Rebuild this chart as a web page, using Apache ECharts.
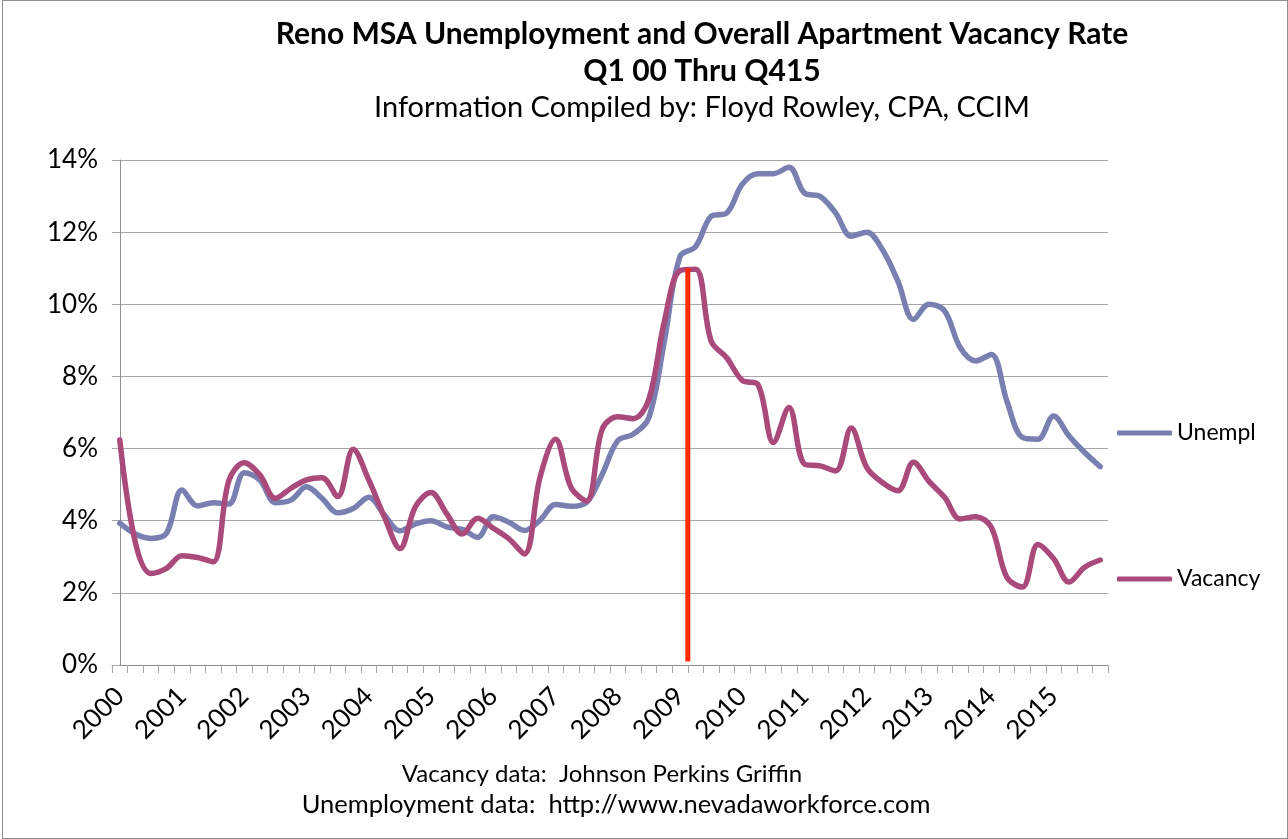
<!DOCTYPE html>
<html>
<head>
<meta charset="utf-8">
<script src="https://cdn.jsdelivr.net/npm/echarts@6/dist/echarts.min.js"></script>
<style>
  html, body { margin: 0; padding: 0; background: #fff; }
  #chart { position: absolute; left: 0; top: 0; width: 1288px; height: 839px; }
  #frame { position: absolute; left: 2px; top: 0; width: 1284px; height: 837px; border: 1px solid #8e8e8e; pointer-events: none; }
</style>
</head>
<body>
<div id="chart"></div>
<div id="frame"></div>
<script>
// quarterly data Q1 2000 .. Q4 2015
let years = [2000, 2001, 2002, 2003, 2004, 2005, 2006, 2007, 2008, 2009, 2010, 2011, 2012, 2013, 2014, 2015];
let quarters = ['Q1', 'Q2', 'Q3', 'Q4'];

let unempl = [
  3.93, 3.63, 3.51, 3.65,   4.85, 4.41, 4.50, 4.46,   5.33, 5.13, 4.50, 4.57,   4.94, 4.62, 4.22, 4.34,
  4.65, 4.16, 3.72, 3.91,   4.00, 3.83, 3.76, 3.54,   4.11, 3.96, 3.73, 4.01,   4.45, 4.40, 4.51, 5.29,
  6.22, 6.40, 6.86, 9.00,   11.33, 11.60, 12.44, 12.53,   13.33, 13.62, 13.62, 13.80,   13.08, 12.99, 12.53, 11.89,
  12.00, 11.52, 10.64, 9.58,   10.00, 9.82, 8.80, 8.43,   8.61, 7.32, 6.31, 6.26,   6.90, 6.35, 5.89, 5.50
];

let vacancy = [
  6.24, 3.40, 2.54, 2.68,   3.03, 2.98, 2.86, 5.10,   5.61, 5.27, 4.62, 4.90,   5.13, 5.19, 4.67, 5.98,
  5.13, 4.11, 3.23, 4.39,   4.78, 4.20, 3.63, 4.07,   3.79, 3.50, 3.08, 5.20,   6.26, 4.92, 4.55, 6.54,
  6.88, 6.83, 7.37, 9.54,   10.93, 10.97, 8.98, 8.52,   7.89, 7.78, 6.17, 7.14,   5.57, 5.52, 5.38, 6.57,
  5.47, 5.06, 4.83, 5.62,   5.09, 4.65, 4.05, 4.11,   3.82, 2.43, 2.16, 3.34,   2.95, 2.30, 2.71, 2.91
];

// red marker line between Q1 and Q2 2009 (category index 36.5)
let peakMarkX = 36.5;
let peakMarkRange = [0.1, 11.0];

let categories = [];
years.forEach(y => quarters.forEach(q => categories.push(y + ' ' + q)));

let font = 'Lato, "Liberation Sans", sans-serif';

let myChart = echarts.init(document.getElementById('chart'));

let option = {
  backgroundColor: '#fff',
  animation: false,
  textStyle: { fontFamily: font, color: '#000' },
  title: [
    { text: 'Reno MSA Unemployment and Overall Apartment Vacancy Rate', left: 697, top: 14, textAlign: 'center',
      textStyle: { fontFamily: font, fontSize: 30, fontWeight: 'bold', color: '#000' } },
    { text: 'Q1 00 Thru Q415', left: 697, top: 51, textAlign: 'center',
      textStyle: { fontFamily: font, fontSize: 30, fontWeight: 'bold', color: '#000' } },
    { text: 'Information Compiled by: Floyd Rowley, CPA, CCIM', left: 697, top: 88, textAlign: 'center',
      textStyle: { fontFamily: font, fontSize: 29, fontWeight: 'normal', color: '#000' } },
    { text: 'Vacancy data:  Johnson Perkins Griffin', left: 597, top: 757, textAlign: 'center',
      textStyle: { fontFamily: font, fontSize: 24, fontWeight: 'normal', color: '#000' } },
    { text: 'Unemployment data:  http://www.nevadaworkforce.com', left: 611, top: 787, textAlign: 'center',
      textStyle: { fontFamily: font, fontSize: 25.5, fontWeight: 'normal', color: '#000' } }
  ],
  legend: {
    orient: 'vertical',
    left: 1112,
    top: 416,
    icon: 'roundRect',
    itemWidth: 55,
    itemHeight: 5,
    itemGap: 122,
    data: ['Unempl', 'Vacancy'],
    textStyle: { fontFamily: font, fontSize: 23, color: '#000', lineHeight: 24 }
  },
  grid: { left: 112, right: 180, top: 160, bottom: 174, containLabel: false },
  xAxis: [
    {
      type: 'category',
      data: categories,
      boundaryGap: true,
      axisLine: { lineStyle: { color: '#8e8e8e', width: 1 } },
      axisTick: { show: true, interval: 0, length: 8, lineStyle: { color: '#a6a6a6' } },
      axisLabel: {
        interval: 3,
        rotate: 45,
        margin: 27,
        fontSize: 26,
        color: '#000',
        fontFamily: font,
        formatter: v => v.split(' ')[0]
      },
      splitLine: { show: false }
    },
    {
      // hidden helper axis in category index units, used for the red marker
      type: 'value',
      min: -0.5,
      max: categories.length - 0.5,
      show: false
    }
  ],
  yAxis: {
    type: 'value',
    min: 0,
    max: 14,
    interval: 2,
    axisLine: { show: true, lineStyle: { color: '#8e8e8e', width: 1 } },
    axisTick: { show: true, length: 8, lineStyle: { color: '#a6a6a6' } },
    axisLabel: { formatter: '{value}%', fontSize: 26, color: '#000', fontFamily: font, margin: 14 },
    splitLine: { lineStyle: { color: '#a6a6a6', width: 1 } }
  },
  series: [
    {
      name: 'Unempl',
      type: 'line',
      data: unempl,
      smooth: 0.35,
      symbol: 'none',
      lineStyle: { color: '#7a7fb2', width: 5.5, cap: 'round' },
      itemStyle: { color: '#7a7fb2' },
      z: 2
    },
    {
      name: 'Vacancy',
      type: 'line',
      data: vacancy,
      smooth: 0.35,
      symbol: 'none',
      lineStyle: { color: '#a94a7a', width: 5.5, cap: 'round' },
      itemStyle: { color: '#a94a7a' },
      z: 3
    },
    {
      name: 'peak',
      type: 'line',
      xAxisIndex: 1,
      data: [[peakMarkX, peakMarkRange[0]], [peakMarkX, peakMarkRange[1]]],
      symbol: 'none',
      silent: true,
      lineStyle: { color: '#ff2a00', width: 5 },
      z: 4
    }
  ]
};

option && myChart.setOption(option);
</script>
</body>
</html>
